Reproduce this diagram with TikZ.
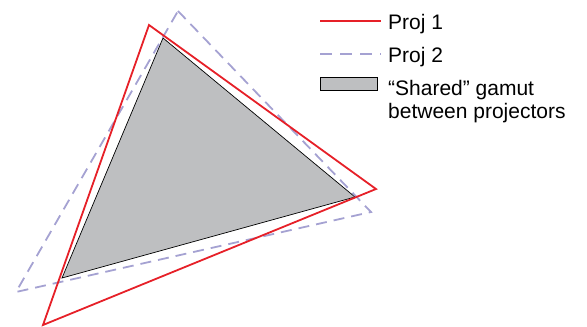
\documentclass[tikz,border=0pt]{standalone}
\usepackage{fontspec}
\setmainfont{Liberation Sans}
\definecolor{projred}{RGB}{230,32,40}
\definecolor{projblue}{RGB}{165,162,210}
\definecolor{gamutgray}{RGB}{190,191,193}
\begin{document}
\begin{tikzpicture}[x=1pt,y=-1pt,
  p1/.style={draw=projred,line width=1.8pt,line join=miter},
  p2/.style={draw=projblue,line width=1.8pt,dash pattern=on 11pt off 7pt},
  shared/.style={fill=gamutgray,draw=black,line width=0.7pt},
  lbl/.style={anchor=base west,inner sep=0pt,font=\fontsize{21}{24}\selectfont}]
\useasboundingbox (0,0) rectangle (587,327);
\filldraw[shared] (163,38) -- (355,197) -- (62,278) -- cycle;
\draw[p2] (178,11) -- (371,212) -- (16,292) -- cycle;
\draw[p1] (149,25) -- (376,189) -- (43,325) -- cycle;
% legend
\coordinate (l1a) at (320,21);
\coordinate (l1b) at (381,21);
\draw[p1] (l1a) -- (l1b);
\node[lbl] (t1) at (388,29) {Proj 1};
\coordinate (l2a) at (320,54);
\coordinate (l2b) at (381,54);
\draw[p2,dash pattern=on 12pt off 8pt] (l2a) -- (l2b);
\node[lbl] (t2) at (388,62) {Proj 2};
\filldraw[shared] (320,77) rectangle (377,90);
\node[lbl] (t3) at (388,95) {“Shared” gamut};
\node[lbl] (t4) at (388,118) {between projectors};
\end{tikzpicture}
\end{document}
